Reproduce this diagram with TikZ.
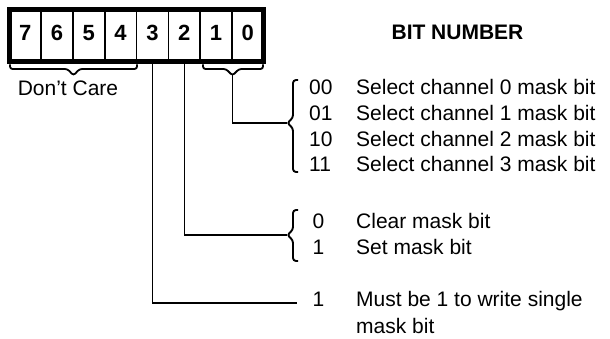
\documentclass[tikz,border=0pt]{standalone}
\usepackage{fontspec}
\setmainfont{Liberation Sans}
\begin{document}
\begin{tikzpicture}[x=1pt,y=-1pt,
  cell/.style={draw, line width=1.6pt, minimum width=31.8pt, minimum height=52.4pt, inner sep=0pt, outer sep=0pt,
    font=\bfseries\fontsize{22}{26}\selectfont, text height=15.75pt, text depth=5.75pt},
  txt/.style={anchor=base west, inner sep=0pt, font=\fontsize{21}{25}\selectfont},
  sqbrace/.style={line width=1.8pt, rounded corners=2.5pt},
  curly/.style={line width=1.9pt, rounded corners=3pt},
  conn/.style={line width=1.4pt}]
\useasboundingbox (0,0) rectangle (610,339);

% register cells
\node[cell] (b7) at (25.2,35.5) {7};
\node[cell] (b6) at (57.0,35.5) {6};
\node[cell] (b5) at (88.8,35.5) {5};
\node[cell] (b4) at (120.6,35.5) {4};
\node[cell] (b3) at (152.4,35.5) {3};
\node[cell] (b2) at (184.2,35.5) {2};
\node[cell] (b1) at (216.0,35.5) {1};
\node[cell] (b0) at (247.8,35.5) {0};
\draw[line width=4.6pt] (b7.north west) rectangle (b0.south east);

\node[anchor=base, inner sep=0pt, font=\bfseries\fontsize{21}{25}\selectfont] (title) at (457.5,40) {BIT NUMBER};

% bracket under bits 7-4
\draw[sqbrace] (10,64.5) -- (10,69) -- (67.5,69) -- (73.5,75.5) -- (79.5,69) -- (137,69) -- (137,64.5);
\node[anchor=base, inner sep=0pt, font=\fontsize{21}{25}\selectfont] (dc) at (68,95.5) {Don’t Care};

% bracket under bits 1-0
\draw[sqbrace] (203,64.5) -- (203,69) -- (226,69) -- (232.5,75.5) -- (239,69) -- (263,69) -- (263,64.5);
\coordinate (t10) at (232.5,75.5);

% curly braces
\draw[curly] (298,80) -- (293,80) -- (293,118) -- (287,123) -- (293,128) -- (293,172) -- (298,172);
\coordinate (k10) at (287,123);
\draw[curly] (298,210) -- (293,210) -- (293,230) -- (287,235) -- (293,240) -- (293,261) -- (298,261);
\coordinate (k2) at (287,235);
\coordinate (k3) at (297,303);

% connectors
\draw[conn] (t10) |- (k10);
\draw[conn] (b2.south) |- (k2);
\draw[conn] (b3.south) |- (k3);

% bits 1-0 entries
\node[txt] (n00) at (309,95) {00};
\node[txt] (d00) at (356,95) {Select channel 0 mask bit};
\node[txt] (n01) at (309,121) {01};
\node[txt] (d01) at (356,121) {Select channel 1 mask bit};
\node[txt] (n10) at (309,146.5) {10};
\node[txt] (d10) at (356,146.5) {Select channel 2 mask bit};
\node[txt] (n11) at (309,172) {11};
\node[txt] (d11) at (356,172) {Select channel 3 mask bit};

% bit 2 entries
\node[txt] (n20) at (312.5,228) {0};
\node[txt] (d20) at (356,228) {Clear mask bit};
\node[txt] (n21) at (312.5,254) {1};
\node[txt] (d21) at (356,254) {Set mask bit};

% bit 3 entry
\node[txt] (n31) at (312.5,306.5) {1};
\node[txt] (d31) at (356,306.5) {Must be 1 to write single};
\node[txt] (d32) at (356,333) {mask bit};
\end{tikzpicture}
\end{document}
